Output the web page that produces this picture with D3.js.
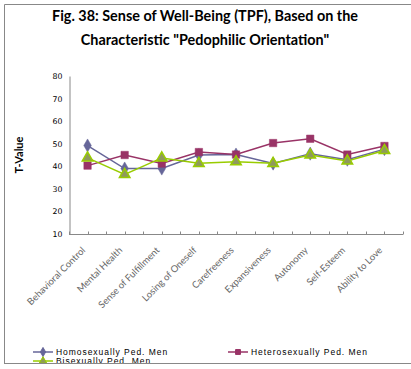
<!DOCTYPE html>
<html>
<head>
<meta charset="utf-8">
<script src="https://cdn.jsdelivr.net/npm/d3@7"></script>
<style>
  body { margin: 0; background: #fff; }
  svg { display: block; }
</style>
</head>
<body>
<svg width="411" height="369"></svg>
<script>
const categories = ["Behavioral Control", "Mental Health", "Sense of Fulfillment", "Losing of Oneself",
  "Carefreeness", "Expansiveness", "Autonomy", "Self-Esteem", "Ability to Love"];
const homoValues = [49.2, 39, 39, 45, 45.2, 41.2, 45.6, 42.9, 47.6];
const heteroValues = [40.3, 45, 41.2, 46.3, 45.2, 50.3, 52.2, 45.2, 49];
const biValues = [43.7, 36.4, 43.7, 41.3, 42, 41.3, 45, 42.4, 47];
const yTicks = [10, 20, 30, 40, 50, 60, 70, 80];

const series = [
  { name: "Homosexually Ped. Men", values: homoValues, color: "#666699", shape: d3.symbolDiamond },
  { name: "Heterosexually Ped. Men", values: heteroValues, color: "#993366", shape: d3.symbolSquare },
  { name: "Bisexually Ped. Men", values: biValues, color: "#99cc00", shape: d3.symbolTriangle },
];

const svg = d3.select("svg");

svg.append("defs").append("clipPath").attr("id", "frame")
  .append("rect").attr("x", 4).attr("y", 4).attr("width", 407).attr("height", 359);

// frame
svg.append("path")
  .attr("d", "M4.5,363.5 V4.5 H411")
  .attr("fill", "none").attr("stroke", "#888").attr("stroke-width", 1);
svg.append("line").attr("x1", 4).attr("x2", 411).attr("y1", 363.5).attr("y2", 363.5)
  .attr("stroke", "#888");

// title
const title = svg.append("text").attr("text-anchor", "middle")
  .attr("font-family", "Lato, 'Open Sans', sans-serif").attr("font-weight", "bold")
  .attr("font-size", 14.4).attr("fill", "#000");
title.append("tspan").attr("x", 205).attr("y", 21).text("Fig. 38: Sense of Well-Being (TPF), Based on the");
title.append("tspan").attr("x", 205).attr("y", 45).text("Characteristic \"Pedophilic Orientation\"");

const x = d3.scaleBand().domain(categories).range([69, 403]);
const y = d3.scaleLinear().domain([10, 80]).range([234, 76]);

// y axis
const yAxis = svg.append("g").attr("transform", "translate(69.5,0)")
  .call(d3.axisLeft(y).tickValues(yTicks).tickSize(0).tickPadding(7));
yAxis.select(".domain").attr("stroke", "#888");
yAxis.selectAll("text").attr("font-family", "DejaVu Sans, Verdana, sans-serif")
  .attr("font-size", 7.8).attr("fill", "#000");

// x axis with ticks on band edges and centres
const halfTicks = [];
categories.forEach(c => { halfTicks.push(x(c)); halfTicks.push(x(c) + x.bandwidth() / 2); });
halfTicks.push(x.range()[1]);
const xAxis = svg.append("g").attr("transform", "translate(0,234.5)");
xAxis.append("line").attr("x1", 69).attr("x2", 403).attr("stroke", "#888");
xAxis.selectAll(".tk").data(halfTicks).enter().append("line")
  .attr("x1", d => Math.round(d) + 0.5).attr("x2", d => Math.round(d) + 0.5)
  .attr("y1", 0).attr("y2", -3).attr("stroke", "#888");
xAxis.selectAll(".lbl").data(categories).enter().append("text")
  .attr("transform", d => `translate(${x(d) + x.bandwidth() / 2 - 4},14) rotate(-45)`)
  .attr("text-anchor", "end").attr("dy", "0.35em")
  .attr("font-family", "Lato, 'Open Sans', sans-serif").attr("font-size", 9.5)
  .attr("fill", "#666").text(d => d);

// y axis title
svg.append("text").attr("transform", "translate(23,155) rotate(-90)")
  .attr("text-anchor", "middle").attr("font-family", "Lato, 'Open Sans', sans-serif")
  .attr("font-weight", "bold").attr("font-size", 11).text("T-Value");

// lines and markers
const cx = c => x(c) + x.bandwidth() / 2;
const line = d3.line().x((d, i) => cx(categories[i])).y(d => y(d));
series.forEach(s => {
  svg.append("path").datum(s.values).attr("d", line)
    .attr("fill", "none").attr("stroke", s.color).attr("stroke-width", 1.5);
});
series.forEach(s => {
  const size = s.shape === d3.symbolTriangle ? 48 : s.shape === d3.symbolSquare ? 55 : 50;
  svg.selectAll(null).data(s.values).enter().append("path")
    .attr("d", d3.symbol().type(s.shape).size(size))
    .attr("transform", (d, i) => `translate(${cx(categories[i])},${y(d)})`)
    .attr("fill", s.shape === d3.symbolTriangle ? "#8f9a5c" : s.color)
    .attr("stroke", s.color).attr("stroke-width", s.shape === d3.symbolTriangle ? 1.5 : 0.5);
});

// legend
const legend = svg.append("g").attr("clip-path", "url(#frame)");
const legendPos = [[33, 352], [228, 352], [33, 361]];
series.forEach((s, i) => {
  const [lx, ly] = legendPos[i];
  legend.append("line").attr("x1", lx).attr("x2", lx + 20).attr("y1", ly).attr("y2", ly)
    .attr("stroke", s.color).attr("stroke-width", 1.5);
  legend.append("path").attr("d", d3.symbol().type(s.shape).size(24))
    .attr("transform", `translate(${lx + 10},${ly})`)
    .attr("fill", s.shape === d3.symbolTriangle ? "#8f9a5c" : s.color).attr("stroke", s.color);
  legend.append("text").attr("x", lx + 23).attr("y", ly).attr("dy", "0.35em")
    .attr("font-family", "Liberation Sans, Arial, sans-serif").attr("font-size", 8.5)
    .attr("letter-spacing", 0.95).attr("fill", "#000").text(s.name);
});
</script>
</body>
</html>
